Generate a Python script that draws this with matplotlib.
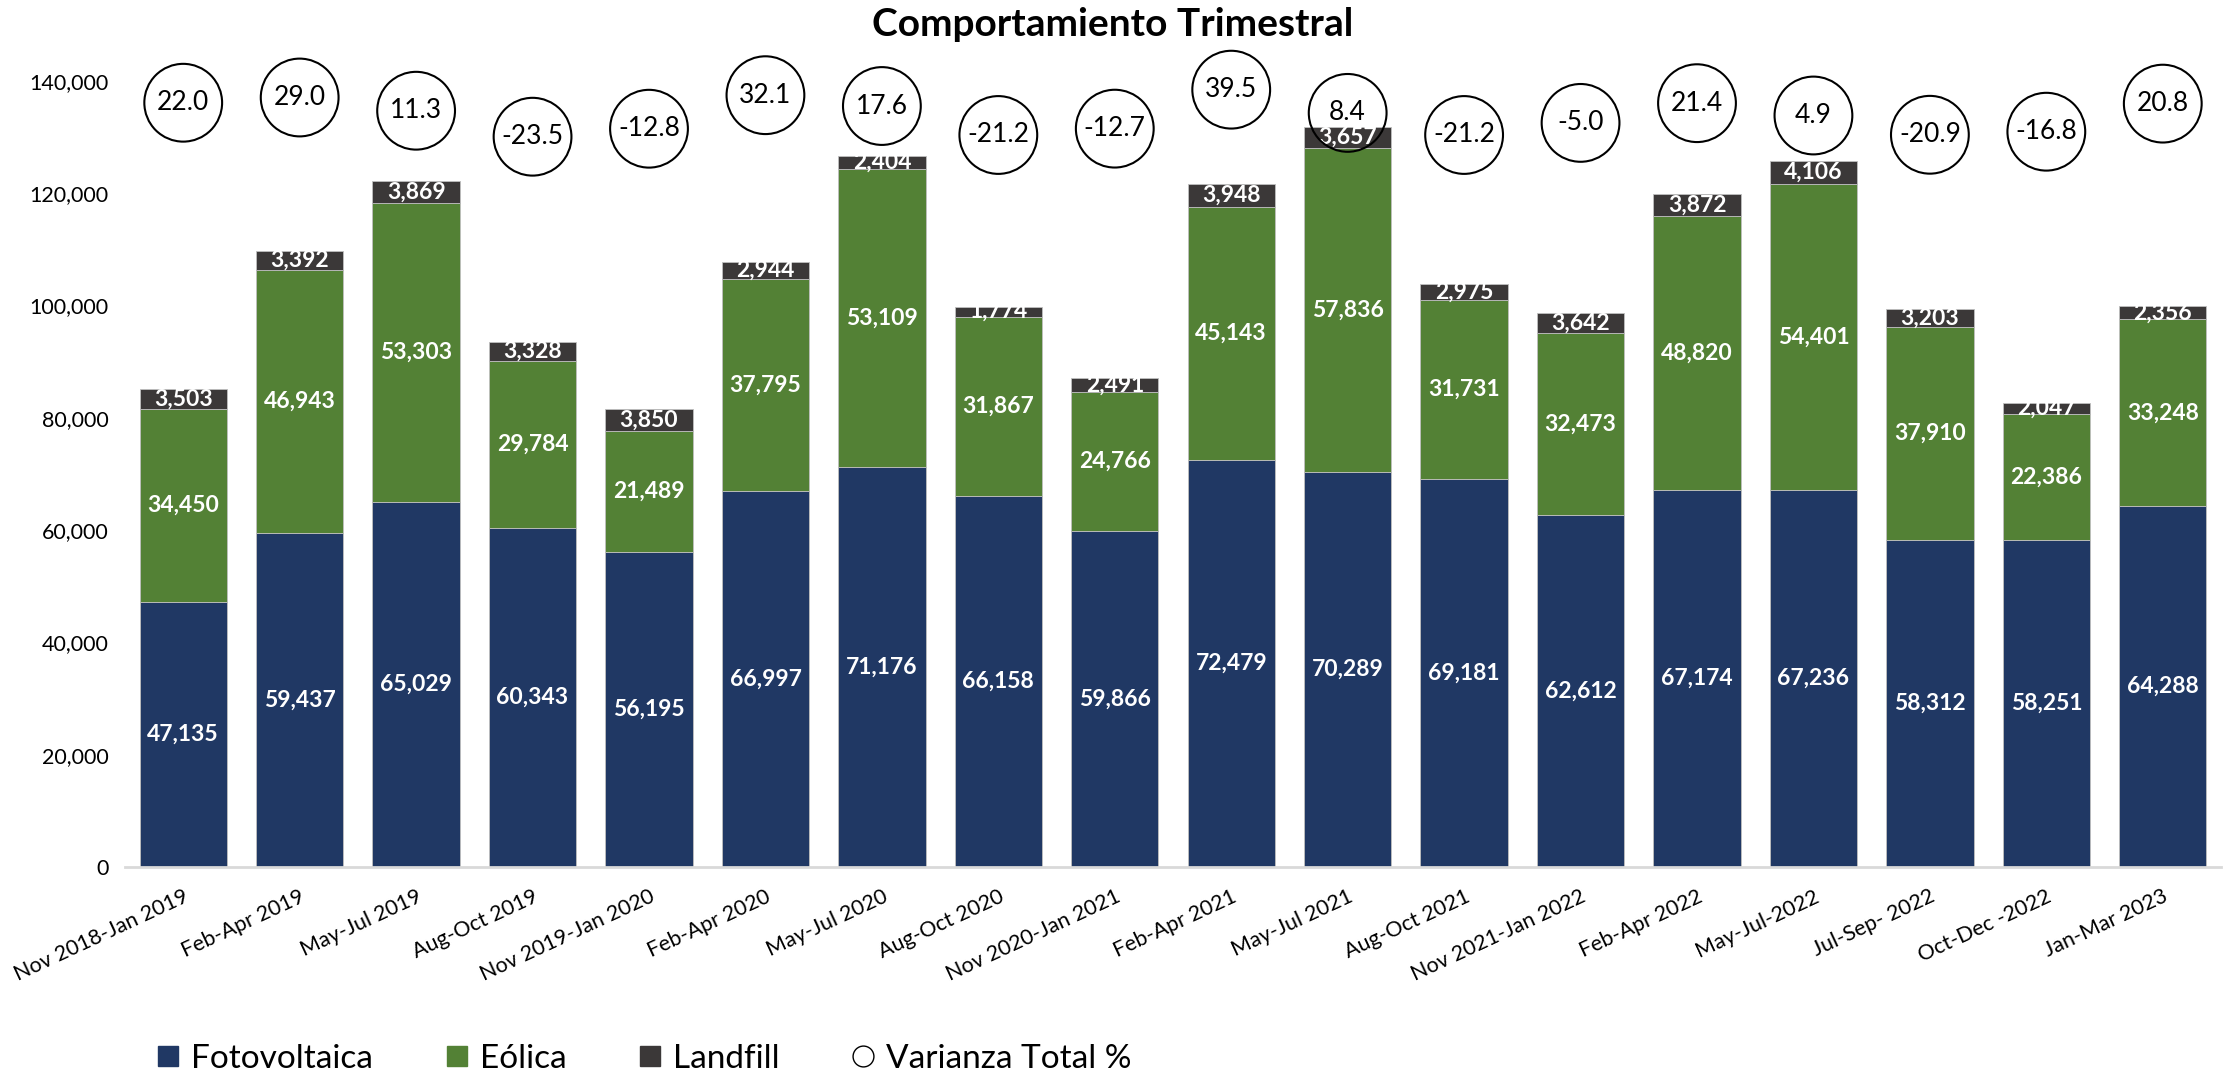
import numpy as np
import matplotlib
matplotlib.use('Agg')
import matplotlib.pyplot as plt
from matplotlib.lines import Line2D

periods = ['Nov 2018-Jan 2019', 'Feb-Apr 2019', 'May-Jul 2019', 'Aug-Oct 2019',
           'Nov 2019-Jan 2020', 'Feb-Apr 2020', 'May-Jul 2020', 'Aug-Oct 2020',
           'Nov 2020-Jan 2021', 'Feb-Apr 2021', 'May-Jul 2021', 'Aug-Oct 2021',
           'Nov 2021-Jan 2022', 'Feb-Apr 2022', 'May-Jul-2022', 'Jul-Sep- 2022',
           'Oct-Dec -2022', 'Jan-Mar 2023']
fotovoltaica = [47135, 59437, 65029, 60343, 56195, 66997, 71176, 66158, 59866,
                72479, 70289, 69181, 62612, 67174, 67236, 58312, 58251, 64288]
eolica = [34450, 46943, 53303, 29784, 21489, 37795, 53109, 31867, 24766,
          45143, 57836, 31731, 32473, 48820, 54401, 37910, 22386, 33248]
landfill = [3503, 3392, 3869, 3328, 3850, 2944, 2404, 1774, 2491,
            3948, 3657, 2975, 3642, 3872, 4106, 3203, 2047, 2356]
varianza = [22.0, 29.0, 11.3, -23.5, -12.8, 32.1, 17.6, -21.2, -12.7,
            39.5, 8.4, -21.2, -5.0, 21.4, 4.9, -20.9, -16.8, 20.8]

C_FOTO = '#203864'
C_EOL = '#538135'
C_LAND = '#3b3838'
CAL = ['Lato', 'DejaVu Sans']

fig = plt.figure(figsize=(22.29, 10.77), dpi=100)
ax = fig.add_axes([125/2229, 1 - 867/1077, (2221-125)/2229, (867-81)/1077])

x = np.arange(len(periods))
foto = np.array(fotovoltaica)
eol = np.array(eolica)
land = np.array(landfill)

kw = dict(width=0.75, edgecolor='#bfbfbf', linewidth=0.6, zorder=2)
ax.bar(x, foto, color=C_FOTO, **kw)
ax.bar(x, eol, bottom=foto, color=C_EOL, **kw)
ax.bar(x, land, bottom=foto + eol, color=C_LAND, **kw)

lab = dict(ha='center', va='center', color='white', fontweight='bold',
           fontsize=16.5, family=CAL, zorder=6)
for i in range(len(x)):
  ax.text(x[i], foto[i] / 2, '{:,}'.format(foto[i]), **lab)
  ax.text(x[i], foto[i] + eol[i] / 2, '{:,}'.format(eol[i]), **lab)
  ax.text(x[i], foto[i] + eol[i] + land[i] / 2, '{:,}'.format(land[i]), **lab)

ax.set_xlim(-0.5, len(x) - 0.5)
ax.set_ylim(0, 140000)
ax.set_yticks(range(0, 140001, 20000))
ax.set_yticklabels(['{:,}'.format(v) for v in range(0, 140001, 20000)],
                   fontsize=15.5, family=CAL)
for s in ['top', 'right', 'left']:
  ax.spines[s].set_visible(False)
ax.spines['bottom'].set_color('#d9d9d9')
ax.spines['bottom'].set_linewidth(2)
ax.tick_params(axis='y', length=0, pad=12)
ax.tick_params(axis='x', length=0, pad=14)
ax.set_xticks(x)
ax.set_xticklabels(periods, rotation=25, ha='right', va='top',
                   rotation_mode='anchor', fontsize=15.5, family=CAL)

# variance circles on a hidden secondary axis
ax2 = ax.twinx()
ax2.set_ylim(-1001.5, 51.1)
ax2.axis('off')
ax2.scatter(x, varianza, s=56**2, facecolors='none', edgecolors='black',
            linewidths=1.5, zorder=5, clip_on=False)
for i in range(len(x)):
  ax2.text(x[i], varianza[i], '{:.1f}'.format(varianza[i]), ha='center', va='center',
           fontsize=19, family=CAL, zorder=6)

fig.text(1113/2229, 1 - 24/1077, 'Comportamiento Trimestral', ha='center', va='center',
         fontsize=28, fontweight='bold', family=CAL)

handles = [Line2D([], [], marker='s', ls='', color=C_FOTO, markersize=15),
           Line2D([], [], marker='s', ls='', color=C_EOL, markersize=15),
           Line2D([], [], marker='s', ls='', color=C_LAND, markersize=15),
           Line2D([], [], marker='o', ls='', markerfacecolor='none',
                  markeredgecolor='black', markersize=15)]
fig.legend(handles, ['Fotovoltaica', 'Eólica', 'Landfill', 'Varianza Total %'],
           loc='center left', bbox_to_anchor=(138/2229, 1 - 1059/1077), ncol=4,
           frameon=False, prop={'family': CAL, 'size': 24}, handlelength=0.8,
           handletextpad=0.3, columnspacing=2.1, borderpad=0)

fig.savefig('out.png', dpi=100)
